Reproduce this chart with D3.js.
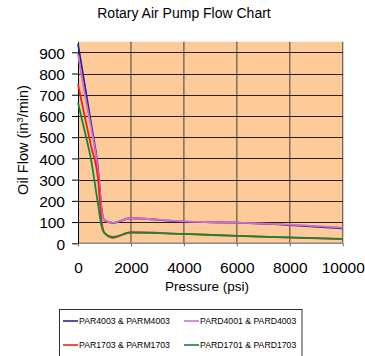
<!DOCTYPE html>
<html>
<head>
<meta charset="utf-8">
<script src="https://cdn.jsdelivr.net/npm/d3@7"></script>
<style>
  html, body { margin: 0; padding: 0; background: #fff; }
  svg { display: block; font-family: "Liberation Sans", Arial, sans-serif; }
</style>
</head>
<body>
<svg id="chart" width="365" height="356"></svg>
<script>
// Flow readings (in^3/min) at each pressure (psi)
const pressures = [0, 250, 500, 750, 900, 1000, 1300, 2000, 4000, 6000, 8000, 10000];
const par4003  = [940, 750, 560, 360, 155, 108, 96, 118, 102, 97, 86, 71];
const pard4001 = [890, 705, 540, 350, 150, 108, 97, 118, 103, 97, 88, 74];
const par1703  = [750, 600, 455, 310, 95, 50, 26, 52, 44, 35, 27, 20];
const pard1701 = [662, 530, 390, 190, 75, 48, 30, 50, 44, 35, 28, 21];

const seriesNames = ["PAR4003 & PARM4003", "PARD4001 & PARD4003", "PAR1703 & PARM1703", "PARD1701 & PARD1703"];
const seriesValues = [par4003, pard4001, par1703, pard1701];
const seriesColors = ["#25258f", "#d36fcf", "#ff1a1a", "#12873a"];

const xTicks = [0, 2000, 4000, 6000, 8000, 10000];
const yTicks = [0, 100, 200, 300, 400, 500, 600, 700, 800, 900];

const svg = d3.select("#chart");
const plot = { left: 78, right: 342.7, top: 41.7, bottom: 243.3 };

const x = d3.scaleLinear().domain([0, 10000]).range([plot.left, plot.right]);
const y = d3.scaleLinear().domain([0, 950]).range([plot.bottom, plot.top]);

// Title
svg.append("text")
  .attr("x", 184).attr("y", 18)
  .attr("text-anchor", "middle")
  .style("font-size", "14px")
  .text("Rotary Air Pump Flow Chart");

// Plot background
svg.append("rect")
  .attr("x", plot.left).attr("y", plot.top)
  .attr("width", plot.right - plot.left).attr("height", plot.bottom - plot.top)
  .attr("fill", "#fdcb99");

// Gridlines
svg.append("g").selectAll("line").data(yTicks.slice(1)).join("line")
  .attr("x1", plot.left).attr("x2", plot.right)
  .attr("y1", d => Math.round(y(d)) + 0.5).attr("y2", d => Math.round(y(d)) + 0.5)
  .attr("stroke", "#000").attr("stroke-opacity", 0.85);
svg.append("g").selectAll("line").data(xTicks.slice(1)).join("line")
  .attr("y1", plot.top).attr("y2", plot.bottom)
  .attr("x1", d => x(d)).attr("x2", d => x(d))
  .attr("stroke", "#000").attr("stroke-opacity", 0.55).attr("stroke-width", 1.3);

// Bottom frame edge
svg.append("line")
  .attr("x1", plot.left).attr("x2", plot.right)
  .attr("y1", plot.bottom).attr("y2", plot.bottom)
  .attr("stroke", "#8a8a8a").attr("stroke-width", 1.5);

// Y axis
const yAxis = d3.axisLeft(y).tickValues(yTicks).tickFormat(d3.format("d"))
  .tickSize(6).tickPadding(7).tickSizeOuter(0);
const gy = svg.append("g").attr("transform", `translate(${plot.left},0)`).call(yAxis);
gy.select(".domain").attr("stroke", "#000");
gy.selectAll("text").style("font-size", "15.5px").attr("fill", "#000").attr("dy", "0.37em");

// X axis
const xAxis = d3.axisBottom(x).tickValues(xTicks).tickFormat(d3.format("d"))
  .tickSize(3).tickPadding(16).tickSizeOuter(0);
const gx = svg.append("g").attr("transform", `translate(0,${plot.bottom})`).call(xAxis);
gx.select(".domain").remove();
gx.selectAll("line").attr("stroke", "#666");
gx.selectAll("text").style("font-size", "15.5px").attr("fill", "#000");

// Axis titles
svg.append("text")
  .attr("x", 207).attr("y", 291)
  .attr("text-anchor", "middle")
  .style("font-size", "13.5px")
  .text("Pressure (psi)");

const yTitle = svg.append("text")
  .attr("transform", "translate(28,140) rotate(-90)")
  .attr("text-anchor", "middle")
  .style("font-size", "14.5px");
yTitle.append("tspan").text("Oil Flow (in");
yTitle.append("tspan").attr("baseline-shift", "super").style("font-size", "9px").text("3");
yTitle.append("tspan").text("/min)");

// Flow curves
const line = d3.line()
  .x((d, i) => x(pressures[i]))
  .y(d => y(d))
  .curve(d3.curveMonotoneX);

svg.append("g").selectAll("path").data(seriesValues).join("path")
  .attr("d", d => line(d))
  .attr("fill", "none")
  .attr("stroke", (d, i) => seriesColors[i])
  .attr("stroke-width", 1.8);

// Legend
svg.append("rect")
  .attr("x", 59.5).attr("y", 309.5).attr("width", 242.5).attr("height", 50)
  .attr("fill", "#fff").attr("stroke", "#333");

const legendPos = [
  { lx: 63, ly: 321 }, { lx: 184, ly: 321 },
  { lx: 63, ly: 345 }, { lx: 184, ly: 345 }
];
const lg = svg.append("g").selectAll("g").data(seriesNames).join("g")
  .attr("transform", (d, i) => `translate(${legendPos[i].lx},${legendPos[i].ly})`);
lg.append("line")
  .attr("x1", 0).attr("x2", 15).attr("y1", 0).attr("y2", 0)
  .attr("stroke", (d, i) => seriesColors[i]).attr("stroke-width", 1.6);
lg.append("text")
  .attr("x", 16).attr("y", 0).attr("dy", "0.35em")
  .style("font-size", "8.7px")
  .text(d => d);
</script>
</body>
</html>
